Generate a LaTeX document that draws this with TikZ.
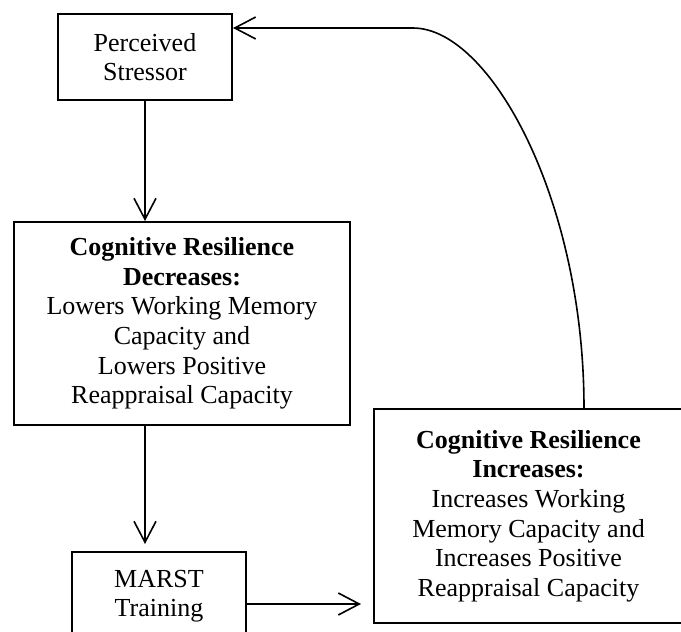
\documentclass[tikz,border=0pt]{standalone}
\usepackage{fontspec}
\setmainfont{Liberation Serif}
\usetikzlibrary{positioning,arrows.meta}

\tikzset{
  box/.style={draw, line width=1pt, inner sep=0pt, align=center,
    font=\fontsize{13}{14.8}\selectfont},
  arr/.style={-{Straight Barb[length=10.5pt,width=11pt]}, line width=0.8pt},
}

\begin{document}
\begin{tikzpicture}[x=0.5pt, y=-0.5pt, on grid]
    \useasboundingbox (0,0) rectangle (681,632);

    \node[box, minimum width=87pt, minimum height=43pt] (stressor) at (145,57) {Perceived\\Stressor};
    \node[box, minimum width=168pt, minimum height=101.5pt, below right=133.25pt and 18.5pt of stressor] (decr)
      {\textbf{Cognitive Resilience}\\\textbf{Decreases:}\\Lowers Working Memory\\Capacity and\\Lowers Positive\\Reappraisal Capacity};
    \node[box, minimum width=87pt, minimum height=44pt, below left=136.25pt and 11.5pt of decr] (marst) {MARST\\Training};
    \node[box, minimum width=154.5pt, minimum height=107pt, above right=40pt and 184.75pt of marst] (incr)
      {\textbf{Cognitive Resilience}\\\textbf{Increases:}\\Increases Working\\Memory Capacity and\\Increases Positive\\Reappraisal Capacity};

    \coordinate (up) at (584,0);
    \coordinate (bend) at (413,28);

    \draw[arr] (stressor.south) -- (decr.north -| stressor.south);
    \draw[arr, shorten >=3.5pt] (decr.south -| stressor.south) -- (marst.north -| stressor.south);
    \draw[arr, shorten >=6pt] ([yshift=-4pt]marst.east) -- ([yshift=-4pt]marst.east -| incr.west);
    \draw[arr] (incr.north -| up) .. controls +(0,-209) and +(77,0) .. (bend) -- (bend -| stressor.east);
\end{tikzpicture}
\end{document}
